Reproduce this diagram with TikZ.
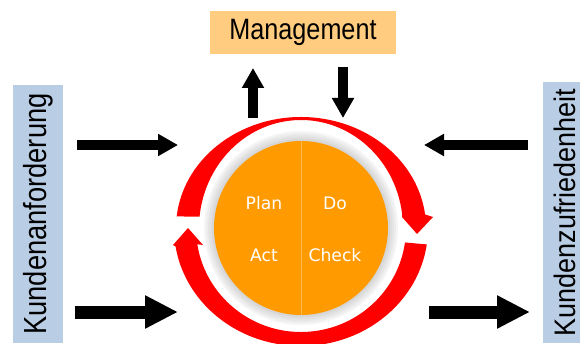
\documentclass[tikz,border=0pt]{standalone}
\usepackage{fontspec}
\setmainfont{Liberation Sans}
\newfontfamily\pdcafont{DejaVu Sans}
\usepackage{tikz}
\usetikzlibrary{arrows.meta, positioning, calc}
\definecolor{pdcaorange}{RGB}{255, 154, 0}
\definecolor{mgmtorange}{RGB}{255, 204, 128}
\definecolor{custblue}{RGB}{185, 205, 229}
\definecolor{splitline}{RGB}{255, 185, 80}
\newcommand{\tallText}[1]{\scalebox{1}[1.17]{#1}}
\tikzstyle{labelbox} = [
    rectangle,
    rotate=90,
    inner sep=0pt,
    fill=custblue,
    font=\fontsize{27.3}{30}\selectfont
]
\tikzstyle{mgmtbox} = [
    rectangle,
    minimum width=186pt,
    minimum height=43pt,
    inner sep=0pt,
    fill=mgmtorange,
    font=\fontsize{25.2}{28}\selectfont
]
\tikzstyle{phase} = [
    anchor=base,
    inner sep=0pt,
    text=white,
    font=\pdcafont\fontsize{17.2}{20}\selectfont
]
\tikzstyle{flowarrow} = [
    line width=10pt,
    -{Triangle[length=20pt, width=21pt]}
]
\tikzstyle{bigflow} = [
    line width=13pt,
    -{Triangle[length=33pt, width=31pt]}
]
\begin{document}
\begin{tikzpicture}[x=1pt, y=1pt]
        \useasboundingbox (0,0) rectangle (580,343);

        % Management on top
        \node[mgmtbox] (mgmt) at (303,310.5) {\tallText{Management}};

        % Customer boxes
        \node[labelbox, minimum width=258pt, minimum height=50pt] (req) at (38,129) {\tallText{Kundenanforderung}};
        \node[labelbox, minimum width=261pt, minimum height=37pt] (satbox) at (561.5,130.5) {};
        \node[labelbox, fill=none, font=\fontsize{27}{30}\selectfont] (sat) at (565,130.5) {\scalebox{1}[1.1]{Kundenzufriedenheit}};

        % Glow round the cycle
        \foreach \r/\g in {97/4, 95/7, 93/10, 91/13, 89/16}
            \fill[black!\g] (301,115) circle (\r);

        % PDCA circle
        \node[circle, fill=pdcaorange, minimum size=174pt, inner sep=0pt] (pdca) at (301,115) {};
        \draw[splitline, line width=0.8pt] (pdca.north) -- (pdca.south);
        \node[phase] (plan) at (264,134) {Plan};
        \node[phase] (do) at (335,134) {Do};
        \node[phase] (act) at (264,82) {Act};
        \node[phase] (check) at (335,82) {Check};

        % Red cycle arrows
        \begin{scope}[shift={(pdca.center)}]
            \fill[red] (174:125 and 111) arc[start angle=174, end angle=7, x radius=125, y radius=111]
                -- (132,11) -- (116,-6) -- (101,11)
                -- (7:102 and 108) arc[start angle=7, end angle=174, x radius=102, y radius=108] -- cycle;
            \fill[red] (-8:127 and 118) arc[start angle=-8, end angle=-171, x radius=127, y radius=118]
                -- (-128,-17) -- (-113,0) -- (-98,-17)
                -- (-171:105 and 104) arc[start angle=-171, end angle=-8, x radius=105, y radius=104] -- cycle;
        \end{scope}

        % Arrow ends
        \coordinate (reqin) at (77,198);
        \coordinate (cyclein) at (178,198);
        \coordinate (reqlow) at (75,31);
        \coordinate (cyclelow) at (178,31);
        \coordinate (satin) at (528,198);
        \coordinate (cycleright) at (424,198);
        \coordinate (cycleout) at (429,31);
        \coordinate (satout) at (530,31);
        \coordinate (upfoot) at (253,225);
        \coordinate (uphead) at (253,275);
        \coordinate (downfoot) at (343,276);
        \coordinate (downhead) at (343,225);

        % Black arrows
        \draw[flowarrow] (reqin) -- (cyclein);
        \draw[bigflow] (reqlow) -- (cyclelow);
        \draw[flowarrow] (satin) -- (cycleright);
        \draw[bigflow] (cycleout) -- (satout);
        \draw[flowarrow] (upfoot) -- (uphead);
        \draw[flowarrow] (downfoot) -- (downhead);
    \end{tikzpicture}
\end{document}
